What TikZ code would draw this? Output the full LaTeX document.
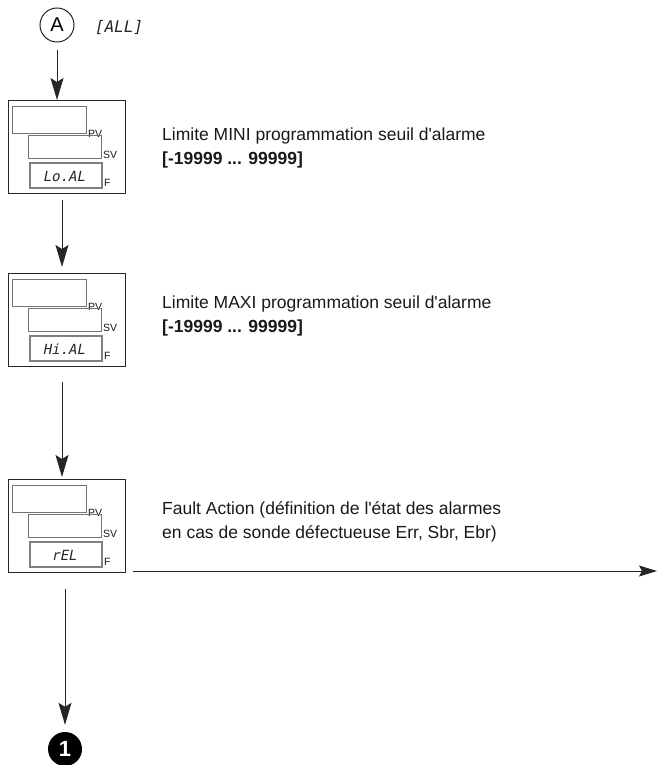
\documentclass[tikz,border=0pt]{standalone}
\usepackage{fontspec}
\setmainfont{Liberation Sans}[Ligatures=TeXOff]
\newfontfamily\segfont[FakeSlant=0.2]{DejaVu Sans Mono}
\usetikzlibrary{arrows.meta}
\tikzset{
  outerbox/.style={draw=black!85, line width=1.2pt, minimum width=117pt, minimum height=93pt, inner sep=0pt, anchor=north west},
  innerbox/.style={draw=black!55, line width=0.9pt, inner sep=0pt, anchor=north west},
  segbox/.style={draw=black!50, line width=1.8pt, inner sep=0pt, anchor=north west, minimum width=72pt, minimum height=25pt},
  lbl/.style={font=\fontsize{10.5}{10.5}\selectfont, inner sep=0pt, anchor=base west, text=black!90},
  segtxt/.style={font=\segfont\fontsize{14}{14}\selectfont, inner sep=0pt, text=black!85},
  desc/.style={font=\fontsize{17.5}{23.5}\selectfont, align=left, anchor=base west, inner sep=0pt, text=black!90},
  conn/.style={draw=black!85, line width=1pt, -{Stealth[length=22pt,width=13pt,inset=4pt]}},
}
\newcommand{\dispbox}[3]{%
  \node[outerbox] (#1) at (8,#2) {};
  \node[innerbox, minimum width=74pt, minimum height=27pt] (#1pv) at (12,#2+6) {};
  \node[lbl] (#1pvl) at (88,#2+37) {PV};
  \node[innerbox, minimum width=73pt, minimum height=23pt] (#1sv) at (28,#2+35) {};
  \node[lbl] (#1svl) at (103,#2+58) {SV};
  \node[segbox] (#1f) at (29,#2+62) {};
  \node[lbl] (#1fl) at (104,#2+86) {F};
  \node[segtxt] (#1seg) at (64,#2+76) {#3};
}
\begin{document}
\begin{tikzpicture}[x=1pt,y=-1pt]
\useasboundingbox (0,0) rectangle (657,765);

\node[circle, draw=black!85, line width=1pt, minimum size=34pt, inner sep=0pt, font=\fontsize{20}{20}\selectfont] (A) at (57,25) {A};
\node[font=\segfont\fontsize{16}{16}\selectfont, inner sep=0pt, text=black!85] (all) at (118,27) {[ALL]};

\dispbox{b1}{100}{Lo.AL}
\dispbox{b2}{273}{Hi.AL}
\dispbox{b3}{479}{rEL}

\node[desc] (t1) at (162,164) {Limite MINI programmation seuil d'alarme\\\textbf{[-19999 ... 99999]}};
\node[desc] (t2) at (162,332) {Limite MAXI programmation seuil d'alarme\\\textbf{[-19999 ... 99999]}};
\node[desc] (t3) at (162,538) {Fault Action (définition de l'état des alarmes\\en cas de sonde défectueuse Err, Sbr, Ebr)};

\node[circle, fill=black, minimum size=34pt, inner sep=0pt, text=white, font=\bfseries\fontsize{22}{22}\selectfont] (one) at (65,749) {1};

\coordinate (out) at (657,571);

\draw[conn, shorten <=8pt] (A.south) -- (A.south |- b1.north);
\draw[conn, shorten <=6pt, shorten >=6pt] ([xshift=54pt]b1.south west) -- ([xshift=54pt]b2.north west);
\draw[conn, shorten <=15pt, shorten >=2pt] ([xshift=54pt]b2.south west) -- ([xshift=54pt]b3.north west);
\draw[conn, shorten <=16pt, shorten >=7pt] (one.north |- b3.south) -- (one.north);
\draw[draw=black!85, line width=1pt, -{Stealth[length=18pt,width=11pt,inset=3pt]}, shorten <=7pt] (b3.south east |- out) -- (out);
\end{tikzpicture}
\end{document}
